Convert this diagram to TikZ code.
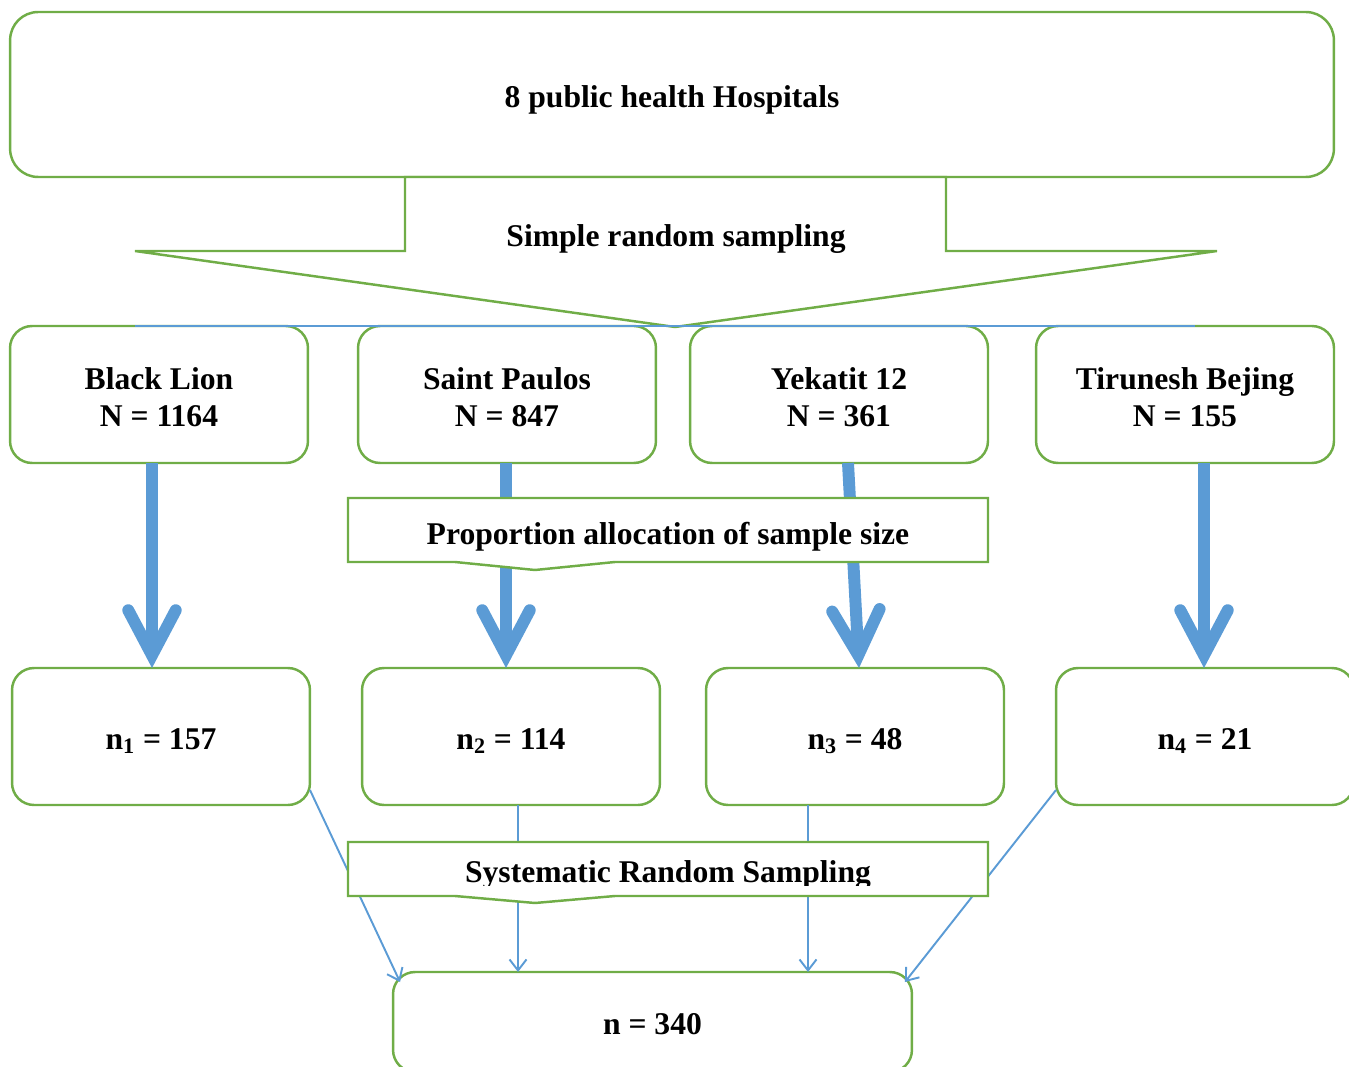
\documentclass[tikz,border=0pt]{standalone}
\usepackage{fontspec}
\setmainfont{Liberation Serif}
\usetikzlibrary{arrows.meta}
\definecolor{boxgreen}{HTML}{70AD47}
\definecolor{arrowblue}{HTML}{5B9BD5}
\tikzset{
  box/.style={draw=boxgreen, line width=1.4pt, rounded corners=0.44cm, fill=white,
    align=center, inner sep=0pt, outer sep=0pt, minimum width=5.96cm, minimum height=2.74cm,
    text height=0.5cm, text depth=0pt, font=\fontsize{18}{21.5}\selectfont\bfseries},
  callout/.style={draw=boxgreen, line width=1.4pt, fill=white},
  calltext/.style={font=\fontsize{18}{21.5}\selectfont\bfseries, inner sep=0pt, anchor=base},
  bigarrow/.style={arrowblue, line width=6.8pt,
    -{Straight Barb[length=0.9cm, width=0.95cm, line cap=round]}},
  thinarrow/.style={arrowblue, line width=1.1pt, -{Straight Barb[length=0.22cm, width=0.34cm]}}
}
\begin{document}
\begin{tikzpicture}[x=0.02cm, y=-0.02cm]
\useasboundingbox (0,0) rectangle (1349,1067);
\node[box, minimum width=26.48cm, minimum height=3.3cm, rounded corners=0.56cm, text height=0.54cm] (hosp) at (672,94.5) {8 public health Hospitals};
\draw[callout] (405,177) -- (946,177) -- (946,251) -- (1217,251) -- (675,327) -- (135,251) -- (405,251) -- cycle;
\node[calltext] (srs) at (676,247) {Simple random sampling};
% hospitals
\node[box, text height=1.3cm] (h1) at (159,394.5) {Black Lion\\N = 1164};
\node[box, text height=1.3cm] (h2) at (507,394.5) {Saint Paulos\\N = 847};
\node[box, text height=1.3cm] (h3) at (839,394.5) {Yekatit 12\\N = 361};
\node[box, text height=1.3cm] (h4) at (1185,394.5) {Tirunesh Bejing\\N = 155};
\coordinate (sl) at (135,326);
\coordinate (sr) at (1195,326);
\draw[arrowblue, line width=0.9pt] (sl) -- (sr);
% samples
\node[box] (n1) at (161,736.5) {n\textsubscript{1} = 157};
\node[box] (n2) at (511,736.5) {n\textsubscript{2} = 114};
\node[box] (n3) at (855,736.5) {n\textsubscript{3} = 48};
\node[box] (n4) at (1205,736.5) {n\textsubscript{4} = 21};
\node[box, minimum width=10.38cm, minimum height=2cm] (tot) at (652.5,1022) {n = 340};
\foreach \i/\a/\b in {1/152/152, 2/506/506, 3/848/859, 4/1204/1204} {
  \draw[bigarrow] (h\i.south -| \a,0) -- (n\i.north -| \b,0);
}
\draw[thinarrow] (n2.south -| 518,0) -- (tot.north -| 518,0);
\draw[thinarrow] (n3.south -| 808,0) -- (tot.north -| 808,0);
\draw[thinarrow] ([yshift=0.3cm]n1.south east) -- ([xshift=0.14cm,yshift=-0.2cm]tot.north west);
\draw[thinarrow] ([yshift=0.3cm]n4.south west) -- ([xshift=-0.14cm,yshift=-0.2cm]tot.north east);
% callouts
\draw[callout] (348,498) -- (988,498) -- (988,562) -- (615,562) -- (535,570) -- (455,562) -- (348,562) -- cycle;
\node[calltext] (pas) at (668,544) {Proportion allocation of sample size};
\draw[callout] (348,842) -- (988,842) -- (988,896) -- (615,896) -- (535,903) -- (455,896) -- (348,896) -- cycle;
\begin{scope}
  \clip (348,842) rectangle (988,885);
  \node[calltext] (sys) at (668,882) {Systematic Random Sampling};
\end{scope}
\end{tikzpicture}
\end{document}
